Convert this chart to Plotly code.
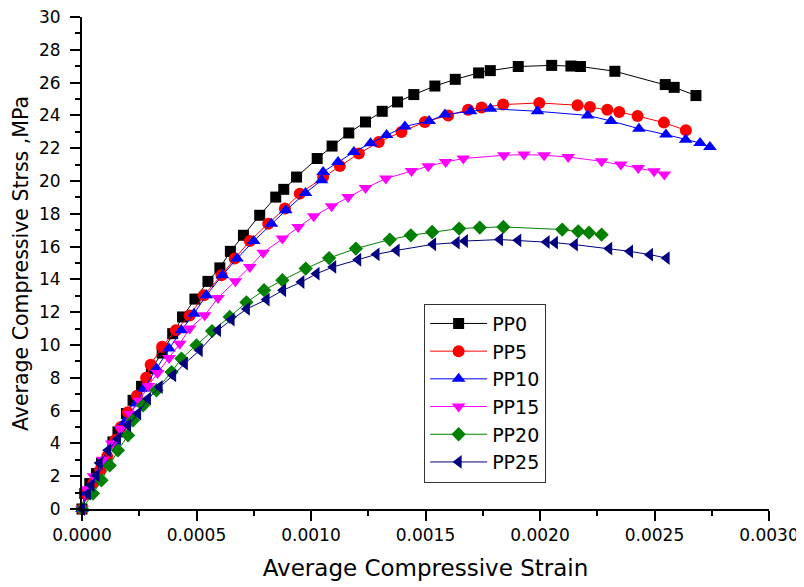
import plotly.graph_objects as go

# strain / stress readings for each mix
pp0_x = [0, 0.000012, 0.000034, 0.000063, 0.000085, 0.000135, 0.000157, 0.000194, 0.000223, 0.00026,
         0.000303, 0.00035, 0.000396, 0.000439, 0.000493, 0.00055, 0.000602, 0.000648, 0.000705, 0.000776,
         0.000846, 0.000881, 0.000937, 0.001027, 0.001092, 0.001165, 0.001238, 0.001311, 0.001378, 0.001449,
         0.001541, 0.00163, 0.001732, 0.001783, 0.001905, 0.002051, 0.002135, 0.002177, 0.002327, 0.002547,
         0.002586, 0.002681]
pp0_y = [0, 0.94, 1.55, 2.16, 2.77, 4.09, 4.70, 5.82, 6.63, 7.48,
         8.56, 9.51, 10.69, 11.71, 12.8, 13.88, 14.70, 15.71, 16.69, 17.91,
         19.02, 19.49, 20.24, 21.37, 22.13, 22.93, 23.60, 24.25, 24.82, 25.27,
         25.79, 26.20, 26.59, 26.73, 26.98, 27.05, 27.01, 26.98, 26.69, 25.88,
         25.71, 25.21]

pp5_x = [0, 0.00002, 0.00005, 0.00008, 0.00011, 0.000145, 0.00017, 0.0002, 0.00024, 0.00028,
         0.0003, 0.00035, 0.00041, 0.00047, 0.000532, 0.000609, 0.000667, 0.000733, 0.000813, 0.000886,
         0.000951, 0.001053, 0.001126, 0.001209, 0.001296, 0.001395, 0.001497, 0.001599, 0.001686, 0.001745,
         0.001839, 0.001997, 0.002164, 0.002218, 0.002294, 0.002346, 0.002426, 0.002541, 0.002637]
pp5_y = [0, 0.9, 1.6, 2.4, 3.2, 4.2, 5.0, 5.9, 6.9, 8.0,
         8.8, 9.9, 10.9, 11.8, 13.03, 14.25, 15.27, 16.34, 17.40, 18.32,
         19.23, 20.24, 20.91, 21.67, 22.38, 22.99, 23.60, 24.0, 24.35, 24.48,
         24.66, 24.76, 24.62, 24.51, 24.35, 24.21, 23.96, 23.56, 23.09]

pp10_x = [0, 0.00002, 0.00006, 0.0001, 0.00014, 0.000187, 0.000238, 0.000271, 0.000325, 0.00038,
          0.000434, 0.000489, 0.000543, 0.000613, 0.000677, 0.00075, 0.000827, 0.00089, 0.000976, 0.001046,
          0.001053, 0.001118, 0.001187, 0.00126, 0.00133, 0.00141, 0.001516, 0.001585, 0.001697, 0.001784,
          0.001989, 0.002208, 0.00231, 0.002432, 0.00255, 0.002636, 0.002699, 0.002742]
pp10_y = [0, 1.0, 1.8, 2.9, 4.0, 5.31, 6.43, 7.34, 8.56, 9.78,
          10.9, 11.91, 13.03, 14.25, 15.27, 16.34, 17.40, 18.21, 19.27, 20.04,
          20.55, 21.16, 21.77, 22.3, 22.8, 23.33, 23.66, 24.05, 24.25, 24.41,
          24.25, 24.0, 23.66, 23.19, 22.83, 22.52, 22.32, 22.07]

pp15_x = [0, 0.00002, 0.00005, 0.00009, 0.00013, 0.00017, 0.00021, 0.00025, 0.00029, 0.00033,
          0.00038, 0.000427, 0.00047, 0.000536, 0.000594, 0.00067, 0.000733, 0.000791, 0.000875, 0.000944,
          0.001012, 0.00109, 0.001162, 0.001238, 0.001327, 0.001439, 0.001512, 0.001588, 0.001665, 0.001842,
          0.00193, 0.002018, 0.002123, 0.002269, 0.002353, 0.002429, 0.002498, 0.002543]
pp15_y = [0, 1.2, 2.0, 3.0, 4.0, 4.9, 5.8, 6.6, 7.5, 8.3,
          9.2, 10.08, 11.0, 11.81, 12.87, 13.88, 14.76, 15.63, 16.49, 17.2,
          17.85, 18.46, 19.02, 19.57, 20.15, 20.61, 20.9, 21.16, 21.37, 21.57,
          21.61, 21.57, 21.46, 21.2, 21.0, 20.79, 20.59, 20.39]

pp20_x = [0, 0.000048, 0.000085, 0.000121, 0.000157, 0.000201, 0.000223, 0.000267, 0.000325, 0.000391,
          0.000434, 0.0005, 0.000568, 0.000645, 0.000718, 0.000795, 0.000875, 0.000977, 0.001079, 0.001196,
          0.001344, 0.001436, 0.001529, 0.001647, 0.001737, 0.00184, 0.002097, 0.002167, 0.002214, 0.002269]
pp20_y = [0, 0.94, 1.75, 2.66, 3.58, 4.49, 5.41, 6.32, 7.24, 8.35,
          9.17, 9.98, 10.85, 11.71, 12.6, 13.34, 13.95, 14.66, 15.3, 15.88,
          16.43, 16.69, 16.89, 17.10, 17.16, 17.2, 17.04, 16.93, 16.85, 16.73]

pp25_x = [0, 0.000026, 0.000041, 0.000063, 0.000077, 0.000114, 0.000157, 0.000201, 0.000245, 0.000288,
          0.000339, 0.000398, 0.000449, 0.000514, 0.000594, 0.000653, 0.00072, 0.000806, 0.000878, 0.000958,
          0.001024, 0.001097, 0.001206, 0.001286, 0.001374, 0.001533, 0.001636, 0.001672, 0.001825, 0.001905,
          0.002029, 0.002065, 0.002152, 0.002302, 0.002393, 0.00248, 0.002553]
pp25_y = [0, 0.94, 1.45, 2.05, 2.80, 3.58, 4.29, 5.10, 5.82, 6.73,
          7.44, 8.15, 8.87, 9.68, 10.9, 11.55, 12.2, 12.77, 13.34, 13.84,
          14.35, 14.76, 15.2, 15.53, 15.77, 16.14, 16.24, 16.34, 16.43, 16.38,
          16.28, 16.24, 16.12, 15.88, 15.71, 15.51, 15.3]

names = ['PP0', 'PP5', 'PP10', 'PP15', 'PP20', 'PP25']
xs = [pp0_x, pp5_x, pp10_x, pp15_x, pp20_x, pp25_x]
ys = [pp0_y, pp5_y, pp10_y, pp15_y, pp20_y, pp25_y]
colors = ['#000000', '#ff0000', '#0000ff', '#ff00ff', '#008000', '#000080']
symbols = ['square', 'circle', 'triangle-up', 'triangle-down', 'diamond', 'triangle-left']
sizes = [11, 12, 12, 12, 11, 12]

fig = go.Figure()
for n, x, y, c, s, sz in zip(names, xs, ys, colors, symbols, sizes):
    fig.add_trace(go.Scatter(x=x, y=y, name=n, mode='lines+markers', cliponaxis=False,
                             line=dict(color=c, width=1),
                             marker=dict(symbol=s, size=sz, color=c, line=dict(width=0))))

font = 'DejaVu Sans, Arial, sans-serif'
axis = dict(showgrid=False, zeroline=False, showline=True, linecolor='black', linewidth=2,
            ticks='outside', ticklen=10, tickwidth=2, tickcolor='black', mirror=False,
            tickfont=dict(family=font, size=17, color='black'), automargin=False,
            ticklabeloverflow='allow',
            minor=dict(ticks='outside', ticklen=5, tickwidth=2, tickcolor='black'))

# page body has an 8px margin, so the figure is shrunk by that much
fig.update_layout(
    width=796, height=579,
    margin=dict(l=74, r=35, t=9, b=78),
    plot_bgcolor='white', paper_bgcolor='white',
    font=dict(family=font, color='black'),
    xaxis=dict(axis, range=[0, 0.003], dtick=0.0005, tick0=0, tickformat='.4f',
               minor=dict(axis['minor'], dtick=0.00025),
               title=dict(text='Average Compressive Strain', font=dict(family=font, size=23))),
    yaxis=dict(axis, range=[0, 30], dtick=2, tick0=0, ticklabelstandoff=6,
               minor=dict(axis['minor'], dtick=1)),
    legend=dict(x=0.498, y=0.4175, xanchor='left', yanchor='top',
                bordercolor='#333333', borderwidth=1, bgcolor='white',
                itemwidth=57, tracegroupgap=0,
                font=dict(family=font, size=19, color='black')),
    annotations=[dict(text='Average Compressive Strss ,MPa', xref='paper', yref='paper',
                      x=-0.0888, y=0.5, xanchor='center', yanchor='middle', textangle=-90,
                      showarrow=False, font=dict(family=font, size=20.5, color='black'))],
)

fig.write_html("out.html")
